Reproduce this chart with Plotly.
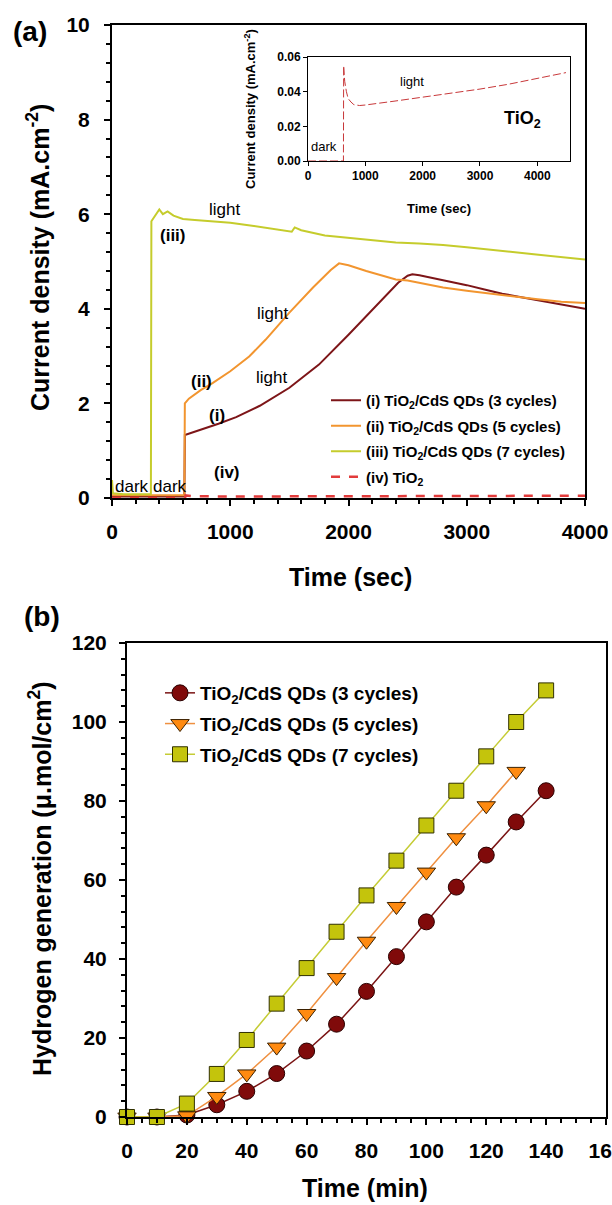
import plotly.graph_objects as go

# ---------------- Panel (a): current density vs time ----------------
# (i) TiO2/CdS QDs (3 cycles)
t_i = [0, 200, 400, 612, 616, 750, 900, 1050, 1250, 1500, 1750, 2000, 2150, 2300, 2420,
       2500, 2540, 2600, 2700, 2850, 3000, 3150, 3300, 3450, 3600, 3800, 4000]
j_i = [0.03, 0.03, 0.03, 0.03, 1.33, 1.44, 1.57, 1.71, 1.95, 2.33, 2.82, 3.45, 3.85, 4.24, 4.55,
       4.7, 4.73, 4.71, 4.66, 4.58, 4.5, 4.41, 4.32, 4.25, 4.18, 4.1, 4.0]

# (ii) TiO2/CdS QDs (5 cycles)
t_ii = [0, 200, 400, 612, 616, 650, 750, 850, 1000, 1160, 1300, 1500, 1700, 1850, 1920,
        2000, 2150, 2300, 2400, 2500, 2600, 2800, 3000, 3200, 3400, 3600, 3800, 4000]
j_ii = [0.06, 0.06, 0.06, 0.06, 2.0, 2.1, 2.28, 2.43, 2.68, 2.99, 3.35, 3.92, 4.45, 4.82, 4.96,
        4.92, 4.8, 4.7, 4.62, 4.6, 4.55, 4.45, 4.38, 4.32, 4.25, 4.2, 4.15, 4.12]

# (iii) TiO2/CdS QDs (7 cycles)
t_iii = [0, 8, 100, 329, 333, 370, 400, 430, 470, 520, 600, 700, 850, 1000, 1200, 1400,
         1520, 1545, 1600, 1800, 2000, 2200, 2400, 2600, 2800, 3000, 3200, 3400, 3600, 3800, 4000]
j_iii = [0.38, 0.1, 0.08, 0.08, 5.85, 6.0, 6.1, 6.0, 6.06, 5.97, 5.9, 5.88, 5.85, 5.82, 5.75, 5.68,
         5.63, 5.72, 5.66, 5.55, 5.5, 5.45, 5.4, 5.38, 5.35, 5.3, 5.25, 5.2, 5.15, 5.1, 5.04]

# (iv) bare TiO2 (also shown in the inset)
t_iv = [0, 300, 600, 618, 622, 640, 670, 700, 750, 800, 900, 1000, 1500, 2000, 2500,
        3000, 3500, 4000, 4500]
j_iv = [0.0, 0.0, 0.0, 0.0, 0.055, 0.046, 0.04, 0.036, 0.034, 0.0325, 0.032, 0.0323, 0.0345,
        0.0367, 0.039, 0.0415, 0.0443, 0.0475, 0.051]

names_a = ["(i) TiO<sub>2</sub>/CdS QDs (3 cycles)",
           "(ii) TiO<sub>2</sub>/CdS QDs (5 cycles)",
           "(iii) TiO<sub>2</sub>/CdS QDs (7 cycles)",
           "(iv) TiO<sub>2</sub>"]

# ---------------- Panel (b): hydrogen generation ----------------
time_min = [0, 10, 20, 30, 40, 50, 60, 70, 80, 90, 100, 110, 120, 130, 140]
h2_3 = [0, 0, 0.5, 3.1, 6.5, 11.0, 16.7, 23.5, 31.8, 40.6, 49.4, 58.2, 66.3, 74.7, 82.6]
h2_5 = [0, 0, 0.3, 5.2, 10.9, 17.7, 26.2, 35.3, 44.5, 53.3, 62.0, 70.7, 78.8, 87.5]
h2_7 = [0, 0, 3.4, 10.9, 19.5, 28.7, 37.7, 46.9, 56.1, 64.9, 73.8, 82.6, 91.3, 100.0, 108.0]
names_b = ["TiO<sub>2</sub>/CdS QDs (3 cycles)",
           "TiO<sub>2</sub>/CdS QDs (5 cycles)",
           "TiO<sub>2</sub>/CdS QDs (7 cycles)"]

# ---------------- styling ----------------
W, H = 612, 1205
FONT = "Arial, Liberation Sans, sans-serif"
C_I, C_II, C_III, C_IV = "#7d1518", "#f2952f", "#c5cc2c", "#e23b3b"


def fx(p):
    return p / W


def fy(p):
    return 1 - p / H


fig = go.Figure()

# panel (a) traces
fig.add_trace(go.Scatter(x=t_i, y=j_i, mode="lines", name=names_a[0], legend="legend",
                         legendgroup="a1", line=dict(color=C_I, width=2), xaxis="x", yaxis="y"))
fig.add_trace(go.Scatter(x=t_ii, y=j_ii, mode="lines", name=names_a[1], legend="legend",
                         legendgroup="a2", line=dict(color=C_II, width=2), xaxis="x", yaxis="y"))
fig.add_trace(go.Scatter(x=t_iii, y=j_iii, mode="lines", name=names_a[2], legend="legend",
                         legendgroup="a3", line=dict(color=C_III, width=2), xaxis="x", yaxis="y"))
fig.add_trace(go.Scatter(x=t_iv, y=j_iv, mode="lines", name=names_a[3], legend="legend",
                         legendgroup="a4", line=dict(color=C_IV, width=2.5, dash="dash"),
                         xaxis="x", yaxis="y"))
# inset
fig.add_trace(go.Scatter(x=t_iv, y=j_iv, mode="lines", showlegend=False,
                         line=dict(color="#c8383a", width=1, dash="8px,3px"),
                         xaxis="x3", yaxis="y3"))

# panel (b) traces
fig.add_trace(go.Scatter(x=time_min, y=h2_3, mode="lines+markers", name=names_b[0],
                         legend="legend2", legendgroup="b1", cliponaxis=False,
                         line=dict(color="#7a1414", width=1.5),
                         marker=dict(symbol="circle", size=16, color="#800a0a",
                                     line=dict(color="#2a0000", width=1)),
                         xaxis="x2", yaxis="y2"))
fig.add_trace(go.Scatter(x=time_min[:len(h2_5)], y=h2_5, mode="lines+markers", name=names_b[1],
                         legend="legend2", legendgroup="b2", cliponaxis=False,
                         line=dict(color="#ef9040", width=1.5),
                         marker=dict(symbol="triangle-down", size=16, color="#ff8a10",
                                     line=dict(color="#3a2000", width=1)),
                         xaxis="x2", yaxis="y2"))
fig.add_trace(go.Scatter(x=time_min, y=h2_7, mode="lines+markers", name=names_b[2],
                         legend="legend2", legendgroup="b3", cliponaxis=False,
                         line=dict(color="#c5cc35", width=1.5),
                         marker=dict(symbol="square", size=15, color="#c4c40c",
                                     line=dict(color="#303000", width=1)),
                         xaxis="x2", yaxis="y2"))

tick_a = dict(family=FONT, size=21, color="black", weight="bold")
ax_common = dict(showline=True, linecolor="black", mirror=True, showgrid=False, zeroline=False,
                 ticks="outside", tickcolor="black", ticklabeloverflow="allow")

fig.update_layout(
    width=W, height=H, margin=dict(l=0, r=0, t=0, b=0, pad=0, autoexpand=False),
    paper_bgcolor="white", plot_bgcolor="white",
    font=dict(family=FONT, color="black"),
    xaxis=dict(domain=[fx(112), fx(585)], range=[0, 4000], dtick=1000, anchor="y",
               linewidth=2, ticklen=6, tickwidth=2, tickfont=tick_a, ticklabelstandoff=8,
               minor=dict(dtick=200, ticks="outside", ticklen=4, tickwidth=1.5, tickcolor="black"),
               **ax_common),
    yaxis=dict(domain=[fy(498), fy(25)], range=[0, 10], dtick=2, anchor="x",
               linewidth=2, ticklen=6, tickwidth=2, tickfont=tick_a, ticklabelstandoff=10,
               minor=dict(dtick=0.4, ticks="outside", ticklen=4, tickwidth=1.5, tickcolor="black"),
               **ax_common),
    xaxis3=dict(domain=[fx(308), fx(570)], range=[0, 4570], dtick=1000, anchor="y3",
                linewidth=1, ticklen=4, tickwidth=1,
                tickfont=dict(family=FONT, size=12, color="black", weight="bold"),
                **ax_common),
    yaxis3=dict(domain=[fy(161), fy(57)], range=[0, 0.06], dtick=0.02, tickformat=".2f",
                anchor="x3", linewidth=1, ticklen=4, tickwidth=1,
                tickfont=dict(family=FONT, size=12, color="black", weight="bold"),
                **ax_common),
    xaxis2=dict(domain=[fx(127), fx(606)], range=[0, 160], dtick=20, anchor="y2",
                linewidth=2, ticklen=6, tickwidth=2, tickfont=tick_a, ticklabelstandoff=8,
                minor=dict(dtick=5, ticks="outside", ticklen=4, tickwidth=1.5, tickcolor="black"),
                **ax_common),
    yaxis2=dict(domain=[fy(1117), fy(643)], range=[0, 120], dtick=20, anchor="x2",
                linewidth=2, ticklen=6, tickwidth=2, tickfont=tick_a, ticklabelstandoff=8,
                minor=dict(dtick=4, ticks="outside", ticklen=4, tickwidth=1.5, tickcolor="black"),
                **ax_common),
    legend=dict(x=fx(326), y=fy(384), xanchor="left", yanchor="top", bgcolor="rgba(0,0,0,0)",
                font=dict(family=FONT, size=15, color="black", weight="bold"),
                tracegroupgap=3, borderwidth=0),
    legend2=dict(x=fx(160), y=fy(674), xanchor="left", yanchor="top", bgcolor="rgba(0,0,0,0)",
                 font=dict(family=FONT, size=19, color="black", weight="bold"),
                 tracegroupgap=3, borderwidth=0),
)

ann = []


def add(text, x, y, xref, yref, size, bold=False, angle=0):
    ann.append(dict(text=text, x=x, y=y, xref=xref, yref=yref, showarrow=False,
                    xanchor="center", yanchor="middle", textangle=angle,
                    font=dict(family=FONT, size=size, color="black",
                              weight="bold" if bold else "normal")))


# panel letters and axis titles
add("(a)", fx(30), fy(31), "paper", "paper", 28, True)
add("(b)", fx(42), fy(616), "paper", "paper", 28, True)
add("Current density (mA.cm<sup>-2</sup>)", fx(38), fy(258), "paper", "paper", 25, True, -90)
add("Time (sec)", fx(350), fy(577), "paper", "paper", 25, True)
add("Hydrogen generation (\u03bc.mol/cm<sup>2</sup>)", fx(40), fy(879), "paper", "paper", 25, True, -90)
add("Time (min)", fx(365), fy(1188), "paper", "paper", 25, True)
# inset titles
add("Current density (mA.cm<sup>-2</sup>)", fx(250), fy(109), "paper", "paper", 13, True, -90)
add("Time (sec)", fx(439), fy(208), "paper", "paper", 13, True)

# in-plot labels (a)
add("dark", 170, 0.24, "x", "y", 17)
add("dark", 490, 0.24, "x", "y", 17)
add("(iii)", 516, 5.56, "x", "y", 17, True)
add("light", 955, 6.11, "x", "y", 17)
add("light", 1361, 3.91, "x", "y", 17)
add("(ii)", 761, 2.47, "x", "y", 17, True)
add("light", 1353, 2.54, "x", "y", 17)
add("(i)", 888, 1.75, "x", "y", 17, True)
add("(iv)", 972, 0.53, "x", "y", 17, True)
# inset labels
add("light", 1810, 0.0456, "x3", "y3", 13)
add("dark", 274, 0.0081, "x3", "y3", 13)
add("TiO<sub>2</sub>", 3745, 0.0237, "x3", "y3", 18, True)

fig.update_layout(annotations=ann)
fig.write_html("out.html", config={"displayModeBar": False},
               post_script="document.body.style.margin='0';document.body.style.overflow='hidden';")
